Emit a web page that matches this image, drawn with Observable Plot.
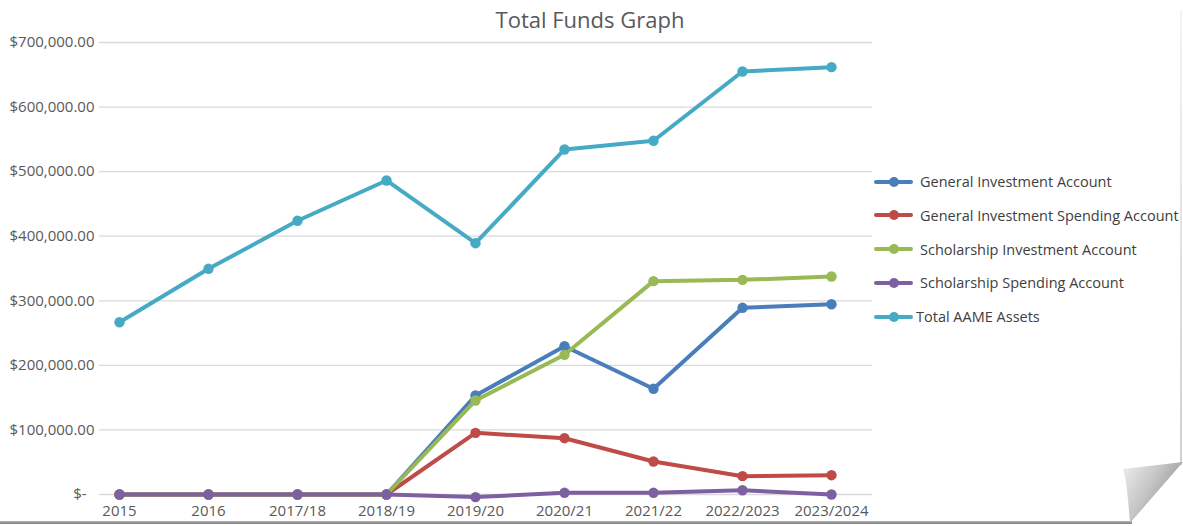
<!DOCTYPE html>
<html>
<head>
<meta charset="utf-8">
<script src="https://cdn.jsdelivr.net/npm/d3@7"></script>
<script src="https://cdn.jsdelivr.net/npm/@observablehq/plot@0.6"></script>
<style>
  body { margin: 0; background: #fff; font-family: "Open Sans", sans-serif; }
  #wrap { position: relative; width: 1183px; height: 526px; overflow: hidden; background: #fff; }
  #title { position: absolute; left: 0; top: 4px; width: 1180px; text-align: center; font-size: 22px; color: #595959; }
  #chart { position: absolute; left: 0; top: 0; }
  .legend-row { position: absolute; left: 874px; height: 20px; display: flex; align-items: center; font-size: 14.5px; color: #404040; white-space: nowrap; }
  .legend-key { position: relative; width: 39px; height: 20px; flex: none; }
  .legend-key .ln { position: absolute; left: 0; top: 8px; width: 39px; height: 4px; border-radius: 2px; }
  .legend-key .dt { position: absolute; left: 14.5px; top: 5px; width: 10px; height: 10px; border-radius: 50%; }
  #bottomEdge { position: absolute; left: 0; top: 521px; width: 1132px; height: 3px; background: linear-gradient(#b5b5b5, #7a7a7a); }
  #rightEdge { position: absolute; left: 1180px; top: 10px; width: 2px; height: 455px; background: linear-gradient(#f4f4f4, #d0d0d0); }
  #curl { position: absolute; left: 1120px; top: 460px; width: 63px; height: 66px;
          background: linear-gradient(120deg, #f2f2f2 0%, #c4c4c4 45%, #777 100%);
          clip-path: polygon(3px 9px, 63px 2px, 10px 63px, 8px 40px, 6px 22px); }
</style>
</head>
<body>
<div id="wrap">
  <div id="chart"></div>
  <div id="title">Total Funds Graph</div>
  <div id="legend"></div>
  <div id="bottomEdge"></div>
  <div id="rightEdge"></div>
  <div id="curl"></div>
</div>
<script>
const years = ["2015", "2016", "2017/18", "2018/19", "2019/20", "2020/21", "2021/22", "2022/2023", "2023/2024"];
const seriesNames = [
  "General Investment Account",
  "General Investment Spending Account",
  "Scholarship Investment Account",
  "Scholarship Spending Account",
  "Total AAME Assets"
];
const generalInvestment     = [0, 0, 0, 0, 153300, 229700, 163700, 289100, 294700];
const generalSpending       = [0, 0, 0, 0, 95500, 87200, 51100, 28400, 29900];
const scholarshipInvestment = [0, 0, 0, 0, 145600, 216300, 330400, 332400, 337600];
const scholarshipSpending   = [0, 0, 0, 0, -4000, 2600, 2600, 6600, 0];
const totalAssets           = [266800, 349500, 423900, 486300, 389200, 534300, 547800, 655100, 661800];
const colors = ["#4A7EBB", "#BE4B48", "#98B954", "#7D60A0", "#46AAC5"];
const yTicks = [0, 100000, 200000, 300000, 400000, 500000, 600000, 700000];

const seriesValues = [generalInvestment, generalSpending, scholarshipInvestment, scholarshipSpending, totalAssets];
const rows = [];
seriesNames.forEach((name, i) => {
  years.forEach((yr, j) => rows.push({series: name, year: yr, value: seriesValues[i][j]}));
});

const money = d3.format("$,.2f");
const marks = [
  Plot.ruleY(yTicks, {stroke: "#d9d9d9", strokeWidth: 1.3}),
  Plot.axisY({ticks: yTicks, tickSize: 0, tickPadding: 5, label: null, fontSize: 15,
    tickFormat: d => d === 0 ? "$-\u00a0\u00a0" : money(d)}),
  Plot.axisX({tickSize: 0, tickPadding: 11, label: null, fontSize: 15})
];
seriesNames.forEach((name, i) => {
  const data = rows.filter(r => r.series === name);
  marks.push(Plot.line(data, {x: "year", y: "value", stroke: colors[i], strokeWidth: 4, strokeLinejoin: "round"}));
  marks.push(Plot.dot(data, {x: "year", y: "value", fill: colors[i], r: 5.2}));
});

const chart = Plot.plot({
  width: 1183,
  height: 526,
  marginTop: 42,
  marginBottom: 32,
  marginLeft: 99,
  marginRight: 311,
  style: {fontFamily: "'Open Sans', sans-serif", fontSize: "15px", color: "#595959", background: "transparent"},
  x: {type: "point", domain: years, range: [117, 833], padding: 0},
  y: {domain: [0, 700000], range: [494, 42]},
  marks
});
document.getElementById("chart").appendChild(chart);

// Legend
const legendTops = [181.7, 215, 249, 282.5, 316.5];
const legend = d3.select("#legend");
seriesNames.forEach((name, i) => {
  const row = legend.append("div").attr("class", "legend-row").style("top", (legendTops[i] - 10) + "px");
  const key = row.append("div").attr("class", "legend-key");
  key.append("div").attr("class", "ln").style("background", colors[i]);
  key.append("div").attr("class", "dt").style("background", colors[i]);
  row.append("span").style("margin-left", i === 4 ? "3px" : "7px").text(name);
});
</script>
</body>
</html>
